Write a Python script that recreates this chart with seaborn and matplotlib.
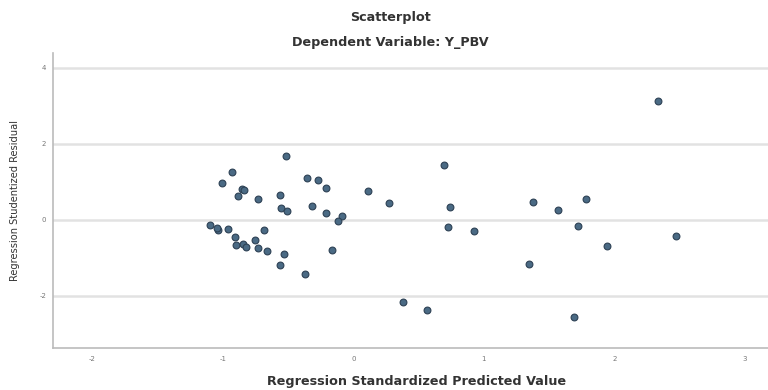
import numpy as np
import pandas as pd
import seaborn as sns
import matplotlib.pyplot as plt

# standardized predicted value (x) and studentized residual (y)
pred = [-0.517, -0.929, -1.004, -0.355, -0.273, -0.852, -0.837, -0.206, 0.109,
        -0.883, -0.732, -0.560, -0.319, -0.555, -0.504, -0.212, -0.086, -0.114,
        -1.094, -1.037, -1.045, -0.960, -0.681, -0.909, -0.752, -0.896, -0.845,
        -0.819, -0.729, -0.660, -0.529, -0.163, -0.558, -0.371,
        2.333, 0.697, 0.272, 0.738, 1.377, 1.565, 1.782, 0.722, 0.926, 1.725,
        2.472, 1.942, 1.346, 0.380, 0.565, 1.692]
resid = [1.68, 1.26, 0.975, 1.09, 1.05, 0.82, 0.78, 0.83, 0.76,
         0.62, 0.56, 0.65, 0.36, 0.30, 0.235, 0.19, 0.105, -0.026,
         -0.13, -0.26, -0.22, -0.235, -0.26, -0.44, -0.52, -0.67, -0.635,
         -0.72, -0.75, -0.83, -0.89, -0.79, -1.18, -1.42,
         3.13, 1.45, 0.44, 0.34, 0.48, 0.25, 0.55, -0.20, -0.30, -0.16,
         -0.43, -0.70, -1.15, -2.16, -2.36, -2.56]

x_ticks = [-2, -1, 0, 1, 2, 3]
y_ticks = [-2, 0, 2, 4]

df = pd.DataFrame({'pred': pred, 'resid': resid})

sns.set_style('white')
plt.rcParams['font.family'] = ['DejaVu Sans']

fig = plt.figure(figsize=(7.68, 3.9), dpi=100)
ax = fig.add_axes([0.069, 0.108, 0.935, 0.756])

for yt in y_ticks:
    ax.axhline(yt, color='#e2e2e2', lw=1.8, zorder=0)

sns.scatterplot(data=df, x='pred', y='resid', ax=ax, s=24,
                color='#4a6a84', edgecolor='#2d4154', linewidth=0.8, zorder=3)

ax.set_xlim(-2.3, 3.2)
ax.set_ylim(-3.37, 4.39)
ax.set_xticks(x_ticks)
ax.set_yticks(y_ticks)
ax.set_xticklabels([str(t) for t in x_ticks], fontsize=5, color='#777777')
ax.set_yticklabels([str(t) for t in y_ticks], fontsize=5, color='#777777')
ax.tick_params(axis='both', length=2, width=0.6, color='#bbbbbb')
ax.tick_params(axis='x', pad=4)
ax.tick_params(axis='y', pad=3)

for side in ['top', 'right']:
    ax.spines[side].set_visible(False)
for side in ['left', 'bottom']:
    ax.spines[side].set_color('#bbbbbb')
    ax.spines[side].set_linewidth(1.2)

ax.set_xlabel('Regression Standardized Predicted Value', fontsize=9.2,
              fontweight='bold', color='#333333', va='center')
ax.xaxis.set_label_coords(0.507, -0.115)
ax.set_ylabel('Regression Studentized Residual', fontsize=7.1,
              color='#333333', va='center')
ax.yaxis.set_label_coords(-0.053, 0.5)

fig.text(0.508, 0.954, 'Scatterplot', ha='center', va='center',
         fontsize=9.2, fontweight='bold', color='#333333')
fig.text(0.508, 0.890, 'Dependent Variable: Y_PBV', ha='center', va='center',
         fontsize=9.2, fontweight='bold', color='#333333')

fig.savefig('out.png', dpi=100, facecolor='white')
